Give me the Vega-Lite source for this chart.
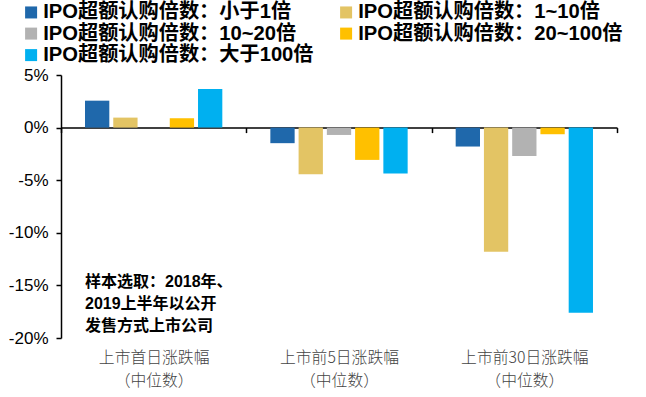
{
  "$schema": "https://vega.github.io/schema/vega-lite/v6.json",
  "width": 556,
  "height": 263,
  "autosize": "none",
  "padding": {"left": 61, "top": 75, "right": 29, "bottom": 59},
  "config": {"view": {"stroke": null}, "font": "Liberation Sans, Noto Sans CJK SC, sans-serif"},
  "data": {"values": [
    {"period": "上市首日涨跌幅|（中位数）", "series": "IPO超额认购倍数：小于1倍", "value": 2.56},
    {"period": "上市首日涨跌幅|（中位数）", "series": "IPO超额认购倍数：1~10倍", "value": 0.95},
    {"period": "上市首日涨跌幅|（中位数）", "series": "IPO超额认购倍数：20~100倍", "value": 0.89},
    {"period": "上市首日涨跌幅|（中位数）", "series": "IPO超额认购倍数：大于100倍", "value": 3.66},
    {"period": "上市前5日涨跌幅|（中位数）", "series": "IPO超额认购倍数：小于1倍", "value": -1.48},
    {"period": "上市前5日涨跌幅|（中位数）", "series": "IPO超额认购倍数：1~10倍", "value": -4.43},
    {"period": "上市前5日涨跌幅|（中位数）", "series": "IPO超额认购倍数：10~20倍", "value": -0.7},
    {"period": "上市前5日涨跌幅|（中位数）", "series": "IPO超额认购倍数：20~100倍", "value": -3.07},
    {"period": "上市前5日涨跌幅|（中位数）", "series": "IPO超额认购倍数：大于100倍", "value": -4.37},
    {"period": "上市前30日涨跌幅|（中位数）", "series": "IPO超额认购倍数：小于1倍", "value": -1.8},
    {"period": "上市前30日涨跌幅|（中位数）", "series": "IPO超额认购倍数：1~10倍", "value": -11.8},
    {"period": "上市前30日涨跌幅|（中位数）", "series": "IPO超额认购倍数：10~20倍", "value": -2.7},
    {"period": "上市前30日涨跌幅|（中位数）", "series": "IPO超额认购倍数：20~100倍", "value": -0.63},
    {"period": "上市前30日涨跌幅|（中位数）", "series": "IPO超额认购倍数：大于100倍", "value": -17.6}
  ]},
  "layer": [
    {
      "mark": {"type": "bar"},
      "encoding": {
        "x": {
          "field": "period", "type": "nominal",
          "sort": ["上市首日涨跌幅|（中位数）", "上市前5日涨跌幅|（中位数）", "上市前30日涨跌幅|（中位数）"],
          "scale": {"paddingInner": 0, "paddingOuter": 0},
          "axis": {
            "orient": "bottom", "offset": -210.4, "tickBand": "extent",
            "domainColor": "black", "domainWidth": 1.5, "tickColor": "black", "tickSize": 5, "tickWidth": 1.5,
            "labelExpr": "split(datum.label, '|')", "labelFontSize": 15.8, "labelLineHeight": 23,
            "labelPadding": 218, "labelColor": "#444444", "labelAngle": 0, "title": null,
            "labelFont": "Noto Sans CJK SC", "labelFontWeight": 300
          }
        },
        "xOffset": {
          "field": "series", "type": "nominal",
          "scale": {"domain": ["IPO超额认购倍数：小于1倍", "IPO超额认购倍数：1~10倍", "IPO超额认购倍数：10~20倍", "IPO超额认购倍数：20~100倍", "IPO超额认购倍数：大于100倍"], "paddingInner": 0.14, "paddingOuter": 0.85}
        },
        "y": {
          "field": "value", "type": "quantitative",
          "scale": {"domain": [-20, 5], "nice": false},
          "axis": {
            "values": [-20, -15, -10, -5, 0, 5], "labelExpr": "datum.value + '%'",
            "labelFontSize": 17, "labelColor": "black", "domainColor": "black", "domainWidth": 1.5,
            "tickColor": "black", "tickSize": 5, "tickWidth": 1.5, "labelPadding": 8, "grid": false, "title": null
          }
        },
        "color": {
          "field": "series", "type": "nominal",
          "scale": {
            "domain": ["IPO超额认购倍数：小于1倍", "IPO超额认购倍数：1~10倍", "IPO超额认购倍数：10~20倍", "IPO超额认购倍数：20~100倍", "IPO超额认购倍数：大于100倍"],
            "range": ["#1F68AB", "#E3C464", "#B2B2B2", "#FFC000", "#00B0F0"]
          },
          "legend": {
            "orient": "none", "legendX": -40, "legendY": -73, "columns": 2, "direction": "horizontal", "title": null,
            "symbolType": "square", "symbolSize": 144, "symbolStrokeWidth": 0,
            "labelFontSize": 20.2, "labelFontWeight": "bold", "labelColor": "black",
            "columnPadding": 22, "rowPadding": 0.5, "labelOffset": 2, "labelLimit": 500, "padding": 0
          }
        }
      }
    },
    {
      "data": {"values": [{}]},
      "mark": {
        "type": "text",
        "text": ["样本选取：2018年、", "2019上半年以公开", "发售方式上市公司"],
        "align": "left", "baseline": "top", "dx": 24, "fontSize": 16, "fontWeight": "bold",
        "lineHeight": 22, "color": "black"
      },
      "encoding": {
        "x": {"datum": "上市首日涨跌幅|（中位数）", "type": "nominal", "bandPosition": 0},
        "y": {"datum": -13.9, "type": "quantitative"}
      }
    }
  ]
}
